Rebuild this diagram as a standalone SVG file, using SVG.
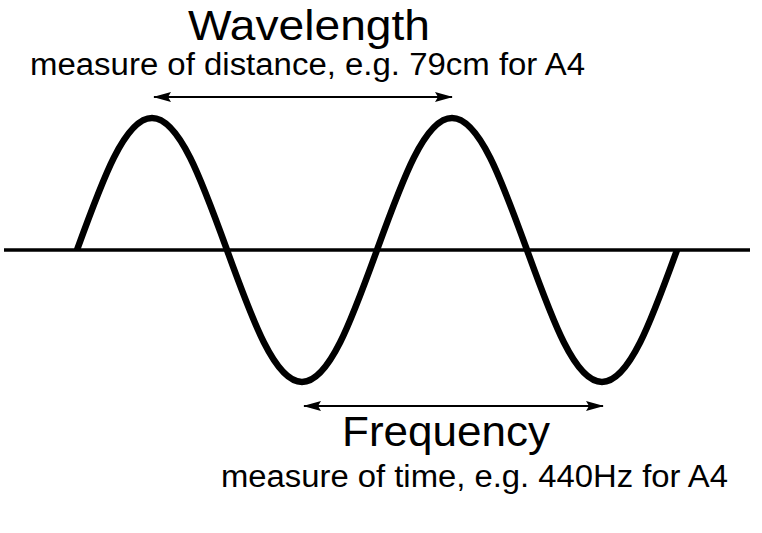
<svg xmlns="http://www.w3.org/2000/svg" width="762" height="533" viewBox="0 0 762 533">
  <style>
    .title { font-family: "Liberation Sans", Arial, sans-serif; fill: #000; }
    .axis { stroke: #000; stroke-width: 3.5; fill: none; }
    .wave { stroke: #000; stroke-width: 6.5; fill: none; stroke-linecap: butt; stroke-linejoin: round; }
    .dim { stroke: #000; stroke-width: 2; fill: none; }
  </style>
  <defs>
    <marker id="ah" viewBox="0 0 18 10" refX="17" refY="5" markerWidth="18" markerHeight="10" markerUnits="userSpaceOnUse" orient="auto-start-reverse">
      <path d="M0,0 L18,5 L0,10 L3,5 Z" fill="#000"/>
    </marker>
  </defs>
  <rect width="762" height="533" fill="#fff"/>

  <g id="axis">
    <line class="axis" x1="4" y1="250" x2="750" y2="250"/>
  </g>

  <g id="wave">
    <path class="wave" d="M77,250 C102.1,180.7 124.7,118 152,118 C179.3,118 201.9,180.7 227,250 C252.1,319.3 274.7,382 302,382 C329.3,382 351.9,319.3 377,250 C402.1,180.7 424.7,118 452,118 C479.3,118 501.9,180.7 527,250 C552.1,319.3 574.7,382 602,382 C629.3,382 651.9,319.3 677,250"/>
  </g>

  <g id="connectors">
    <line class="dim" x1="154" y1="97" x2="452" y2="97" marker-start="url(#ah)" marker-end="url(#ah)"/>
    <line class="dim" x1="304" y1="406" x2="603" y2="406" marker-start="url(#ah)" marker-end="url(#ah)"/>
  </g>

  <g id="wavelength-label">
    <text class="title" x="188" y="40" font-size="43" textLength="242" lengthAdjust="spacingAndGlyphs">Wavelength</text>
    <text class="title" x="30" y="75" font-size="31" textLength="555" lengthAdjust="spacingAndGlyphs">measure of distance, e.g. 79cm for A4</text>
  </g>

  <g id="frequency-label">
    <text class="title" x="342" y="446" font-size="42" textLength="208" lengthAdjust="spacingAndGlyphs">Frequency</text>
    <text class="title" x="221" y="487" font-size="31" textLength="507" lengthAdjust="spacingAndGlyphs">measure of time, e.g. 440Hz for A4</text>
  </g>
</svg>
